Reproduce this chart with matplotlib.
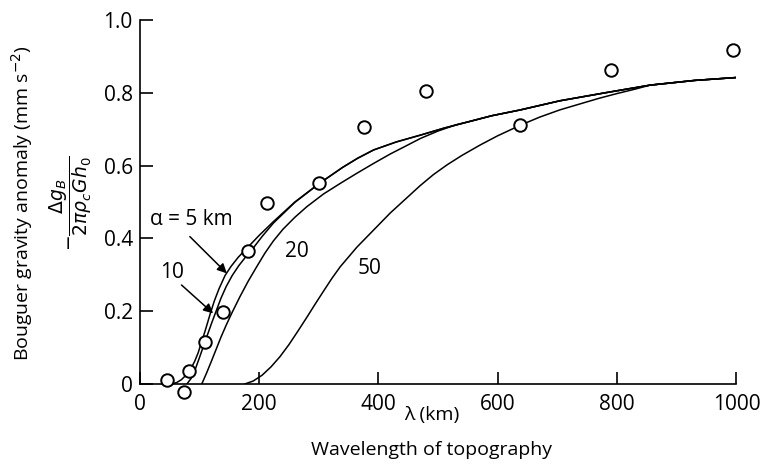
import numpy as np
import matplotlib
matplotlib.use("Agg")
import matplotlib.pyplot as plt

plt.rcParams['font.family'] = ['Open Sans', 'DejaVu Sans']
plt.rcParams['font.weight'] = 'medium'
plt.rcParams['mathtext.fontset'] = 'dejavusans'

# curvas teoricas (lambda en km)
lam5 = [54, 62, 70, 78, 85, 92, 98, 103, 110, 118, 125, 133, 143, 153, 165, 182, 200, 224, 260, 301, 340, 365, 392, 430, 471, 510, 550, 590, 638, 704, 780, 855, 930, 1000]
g5 = [0, 0.004, 0.012, 0.025, 0.04, 0.062, 0.086, 0.112, 0.148, 0.192, 0.228, 0.262, 0.298, 0.323, 0.348, 0.377, 0.408, 0.446, 0.5, 0.551, 0.595, 0.62, 0.643, 0.665, 0.684, 0.703, 0.72, 0.737, 0.753, 0.778, 0.8, 0.821, 0.834, 0.842]

lam10 = [79, 86, 93, 100, 106, 112, 120, 128, 136, 145, 155, 166, 178, 190, 205, 224, 260, 301, 340, 365, 392, 430, 471, 510, 550, 590, 638, 704, 780, 855, 930, 1000]
g10 = [0, 0.015, 0.04, 0.072, 0.1, 0.128, 0.165, 0.2, 0.235, 0.268, 0.298, 0.325, 0.35, 0.373, 0.405, 0.442, 0.499, 0.551, 0.595, 0.62, 0.643, 0.665, 0.684, 0.703, 0.72, 0.737, 0.753, 0.778, 0.8, 0.821, 0.834, 0.842]

lam20 = [104, 112, 120, 128, 136, 145, 155, 168, 182, 196, 210, 224, 240, 260, 280, 308, 336, 364, 392, 420, 445, 471, 500, 530, 550, 590, 638, 704, 780, 855, 930, 1000]
g20 = [0, 0.03, 0.062, 0.095, 0.128, 0.162, 0.197, 0.24, 0.283, 0.322, 0.36, 0.393, 0.425, 0.458, 0.487, 0.522, 0.551, 0.579, 0.606, 0.632, 0.653, 0.675, 0.695, 0.712, 0.72, 0.737, 0.753, 0.778, 0.8, 0.821, 0.834, 0.842]

lam50 = [176, 190, 205, 220, 235, 250, 265, 280, 295, 308, 322, 336, 364, 392, 420, 448, 470, 492, 515, 540, 571, 600, 638, 670, 704, 739, 770, 800, 830, 855, 930, 1000]
g50 = [0, 0.008, 0.024, 0.047, 0.075, 0.108, 0.145, 0.183, 0.222, 0.255, 0.29, 0.322, 0.376, 0.423, 0.47, 0.512, 0.545, 0.575, 0.602, 0.628, 0.657, 0.682, 0.711, 0.733, 0.753, 0.77, 0.785, 0.798, 0.81, 0.821, 0.834, 0.842]

# observaciones
lam_obs = [45, 74, 83, 109, 140, 182, 214, 301, 376, 479, 637, 789, 994]
g_obs = [0.011, -0.023, 0.036, 0.116, 0.199, 0.366, 0.497, 0.551, 0.705, 0.806, 0.711, 0.863, 0.918]

xticks = [0, 200, 400, 600, 800, 1000]
yticks = [0, 0.2, 0.4, 0.6, 0.8, 1.0]
yticklabels = ["0", "0.2", "0.4", "0.6", "0.8", "1.0"]

fig = plt.figure(figsize=(7.61, 4.75), dpi=100)
ax = fig.add_axes([0.1836, 0.1916, 0.7841, 0.7663])

for lam, g in [(lam5, g5), (lam10, g10), (lam20, g20), (lam50, g50)]:
    ax.plot(lam, g, color="black", lw=1.1)

ax.plot(lam_obs, g_obs, "o", ms=9, mfc="white", mec="black", mew=1.4, clip_on=False, zorder=5)

ax.set_xlim(0, 1000)
ax.set_ylim(0, 1.0)
ax.spines["top"].set_visible(False)
ax.spines["right"].set_visible(False)
ax.spines["left"].set_linewidth(1.2)
ax.spines["bottom"].set_linewidth(1.2)
ax.set_xticks(xticks)
ax.set_yticks(yticks)
ax.set_yticklabels(yticklabels)
ax.tick_params(direction="in", length=9, width=1.2, labelsize=15, pad=5)
ax.tick_params(axis="x", pad=7)

fig.text(0.567, 0.126, "λ (km)", ha="center", va="center", fontsize=14)
fig.text(0.567, 0.053, "Wavelength of topography", ha="center", va="center", fontsize=14)

fig.text(0.029, 0.573, "Bouguer gravity anomaly (mm s$^{-2}$)", rotation=90,
         ha="center", va="center", fontsize=14)
fig.text(0.093, 0.573, r"$-\dfrac{\Delta g_B}{2\pi\rho_c G h_0}$", rotation=90,
         ha="center", va="center", fontsize=13.5)

arrow = dict(arrowstyle="-|>", color="black", lw=1.1, mutation_scale=14, shrinkA=0, shrinkB=0)
ax.annotate("", xy=(146, 0.304), xytext=(84, 0.405), arrowprops=arrow)
ax.annotate("", xy=(123, 0.194), xytext=(70, 0.272), arrowprops=arrow)
ax.text(87, 0.452, "α = 5 km", ha="center", va="center", fontsize=15)
ax.text(54, 0.305, "10", ha="center", va="center", fontsize=15)
ax.text(264, 0.363, "20", ha="center", va="center", fontsize=15)
ax.text(386, 0.318, "50", ha="center", va="center", fontsize=15)

plt.savefig("out.png", dpi=100)
